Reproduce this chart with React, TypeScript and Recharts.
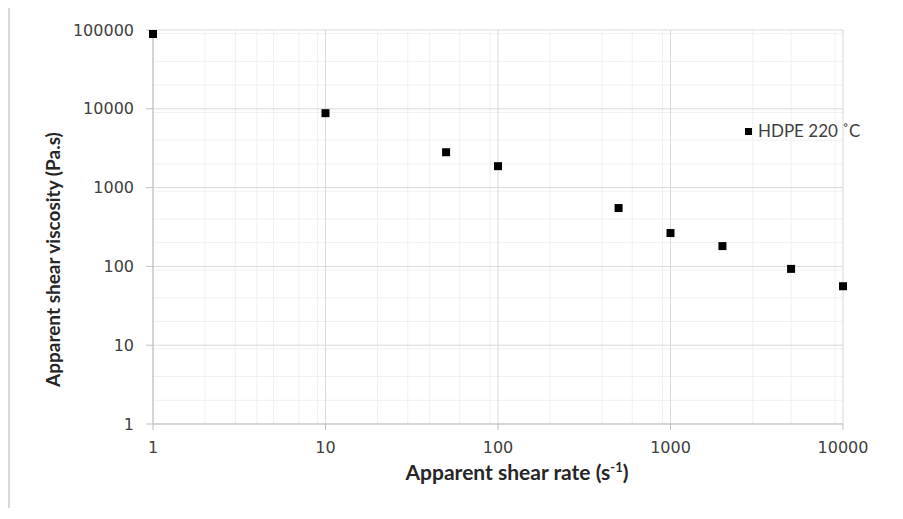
import { ScatterChart, Scatter, XAxis, YAxis, ZAxis, CartesianGrid, Legend } from 'recharts'

const shearRate = [1, 10, 50, 100, 500, 1000, 2000, 5000, 10000]
const viscosity = [89000, 8800, 2810, 1870, 550, 265, 181, 93, 56]

const xTicks = [1, 10, 100, 1000, 10000]
const yTicks = [1, 10, 100, 1000, 10000, 100000]
const steps = [2, 3, 4, 5, 6, 7, 8, 9]

const SERIES_NAME = 'HDPE 220 ˚C'

const minorOf = (decades: number[]) => decades.slice(0, -1).flatMap((d) => steps.map((s) => d * s))

const data = shearRate.map((x, i) => ({ x, y: viscosity[i] }))

const tickStyle = { fontSize: 16, fill: '#404040', fontFamily: 'DejaVu Sans' }

const XTitle = ({ viewBox }: any) => (
  <text
    x={viewBox.x + viewBox.width / 2 + 19}
    y={viewBox.y + 56}
    textAnchor="middle"
    fontFamily="Lato"
    fontWeight="bold"
    fontSize={21}
    fill="#262626"
  >
    Apparent shear rate (s<tspan fontSize={13} dy={-8}>-1</tspan><tspan dy={8}>)</tspan>
  </text>
)

// anchored at the bottom end, reading upwards
const YTitle = ({ viewBox }: any) => {
  const x = viewBox.x + 50
  const y = 379
  return (
    <text
      x={x}
      y={y}
      transform={`rotate(-90, ${x}, ${y})`}
      textAnchor="start"
      fontFamily="Lato"
      fontWeight="bold"
      fontSize={19}
      fill="#262626"
    >
      Apparent shear viscosity (Pa.s)
    </text>
  )
}

const LegendBox = () => (
  <div style={{ display: 'flex', alignItems: 'center', fontFamily: 'Lato', fontSize: 17, color: '#404040', lineHeight: '18px', whiteSpace: 'nowrap' }}>
    <span style={{ display: 'inline-block', width: 7, height: 7, background: '#000', marginRight: 6 }} />
    {SERIES_NAME}
  </div>
)

export default function App() {
  return (
    <div style={{ marginTop: -2, borderLeft: '2px solid #d9d9d9', borderTop: '2px solid #d9d9d9', width: 885, height: 500, background: '#fff' }}>
      <ScatterChart width={885} height={500} margin={{ top: 22, right: 52, left: 0, bottom: 24 }}>
        <CartesianGrid stroke="#f0f0f0" verticalValues={minorOf(xTicks)} horizontalValues={minorOf(yTicks)} />
        <CartesianGrid stroke="#d9d9d9" verticalValues={xTicks} horizontalValues={yTicks} />
        <XAxis
          type="number"
          dataKey="x"
          scale="log"
          domain={[1, 10000]}
          ticks={xTicks}
          height={60}
          stroke="#bfbfbf"
          tickSize={6}
          tickMargin={12}
          tick={tickStyle}
          label={<XTitle />}
        />
        <YAxis
          type="number"
          dataKey="y"
          scale="log"
          domain={[1, 100000]}
          ticks={yTicks}
          width={143}
          stroke="#bfbfbf"
          tickSize={7}
          tickMargin={12}
          tick={tickStyle}
          label={<YTitle />}
        />
        <ZAxis range={[60, 60]} />
        <Legend
          layout="horizontal"
          verticalAlign="middle"
          align="center"
          content={<LegendBox />}
          wrapperStyle={{ left: 735, top: 114, width: 'auto' }}
        />
        <Scatter name={SERIES_NAME} data={data} fill="#000" shape="square" isAnimationActive={false} />
      </ScatterChart>
    </div>
  )
}
